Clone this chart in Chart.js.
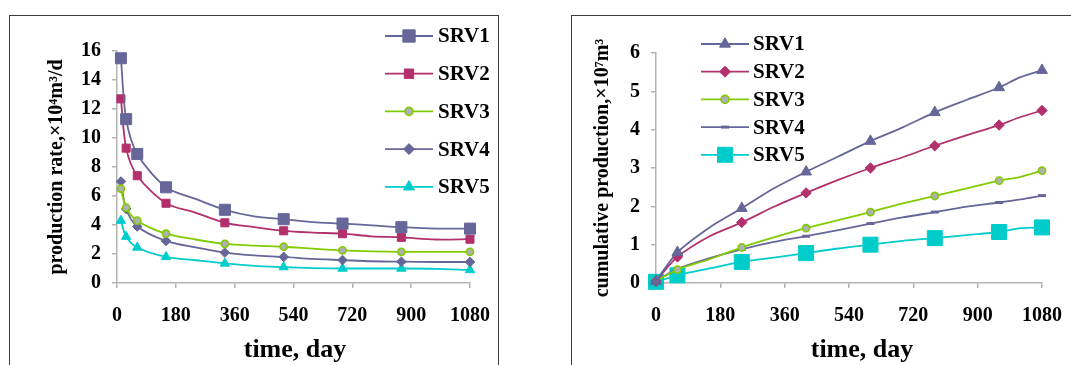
<!DOCTYPE html>
<html>
<head>
<meta charset="utf-8">
<script src="https://cdn.jsdelivr.net/npm/chart.js@4/dist/chart.umd.min.js"></script>
<style>
  body { margin: 0; background: #fff; }
  .caixa { position: absolute; border: 1.5px solid #3c3c3c; }
  canvas { position: absolute; top: 0; }
</style>
</head>
<body>
<div class="caixa" style="left:9px; top:15px; width:488px; height:400px;"></div>
<div class="caixa" style="left:571px; top:15px; width:600px; height:400px;"></div>
<canvas id="graficoVazao" width="540" height="365" style="left:0"></canvas>
<canvas id="graficoAcumulado" width="531" height="365" style="left:540px"></canvas>
<script>
// === Dados ===
// vazao (10^4 m3/d) x tempo (dias)
const diasVazao = [12, 28, 62, 150, 240, 330, 420, 510, 600, 690, 780, 870, 975, 1080];
const marcasVazao = [12, 28, 62, 150, 330, 510, 690, 870, 1080];
const srv1Vazao = [15.5, 11.3, 8.9, 6.6, 5.8, 5.05, 4.6, 4.4, 4.2, 4.1, 3.98, 3.85, 3.75, 3.75];
const srv2Vazao = [12.7, 9.3, 7.4, 5.5, 4.85, 4.15, 3.85, 3.6, 3.48, 3.4, 3.22, 3.15, 3.0, 3.02];
const srv3Vazao = [6.5, 5.2, 4.3, 3.4, 3.0, 2.7, 2.58, 2.5, 2.37, 2.25, 2.18, 2.15, 2.15, 2.15];
const srv4Vazao = [7.0, 5.1, 3.9, 2.9, 2.45, 2.1, 1.9, 1.8, 1.66, 1.58, 1.5, 1.47, 1.45, 1.45];
const srv5Vazao = [4.3, 3.2, 2.45, 1.8, 1.57, 1.35, 1.18, 1.1, 1.03, 1.0, 1.0, 1.0, 0.98, 0.9];

// producao acumulada (10^7 m3) x tempo (dias)
const diasAcum = [0, 60, 150, 240, 330, 420, 510, 600, 690, 780, 870, 960, 1020, 1080];
const marcasAcum = [0, 60, 240, 420, 600, 780, 960, 1080];
const srv1Acum = [0.05, 0.8, 1.45, 1.95, 2.47, 2.9, 3.3, 3.7, 4.06, 4.45, 4.78, 5.1, 5.37, 5.55];
const srv2Acum = [0.05, 0.68, 1.22, 1.58, 1.99, 2.35, 2.69, 3.0, 3.28, 3.58, 3.86, 4.12, 4.33, 4.5];
const srv3Acum = [0.05, 0.35, 0.62, 0.93, 1.19, 1.43, 1.64, 1.85, 2.08, 2.27, 2.47, 2.67, 2.77, 2.93];
const srv4Acum = [0.05, 0.37, 0.65, 0.88, 1.07, 1.22, 1.38, 1.55, 1.71, 1.85, 1.99, 2.1, 2.18, 2.28];
const srv5Acum = [0.03, 0.2, 0.38, 0.55, 0.66, 0.78, 0.9, 1.0, 1.1, 1.17, 1.25, 1.33, 1.43, 1.45];

const rotulos = ["SRV1", "SRV2", "SRV3", "SRV4", "SRV5"];
const tituloTempo = "time, day";

const fonteSerif = '"Liberation Serif", "Times New Roman", serif';
const corEixo = "#b4b4b4";

// === Funções utilitárias ===
function pontos(dias, valores) {
    return dias.map((d, i) => ({ x: d, y: valores[i] }));
}
function raios(dias, marcas, r) {
    return dias.map(d => (marcas.includes(d) ? r : 0));
}
function serie(label, dias, valores, marcas, cor, estilo, r, rLegenda, fundo) {
    return {
        label: label,
        data: pontos(dias, valores),
        borderColor: cor,
        borderWidth: 1.8,
        tension: 0.3,
        clip: false,
        pointStyle: estilo,
        pointRadius: raios(dias, marcas, r),
        pointHoverRadius: 0,
        pointBackgroundColor: fundo || cor,
        pointBorderColor: cor,
        pointBorderWidth: estilo === "line" ? 3 : (fundo ? 1.6 : 1),
        raioLegenda: rLegenda
    };
}

// === Legenda e título do eixo X desenhados no canvas ===
const legendaSRV = {
    id: "legendaSRV",
    afterDraw(chart, args, opts) {
        const ctx = chart.ctx;
        ctx.save();
        chart.data.datasets.forEach((ds, i) => {
            const y = opts.y0 + i * opts.dy;
            ctx.strokeStyle = ds.borderColor;
            ctx.lineWidth = ds.borderWidth;
            ctx.beginPath();
            ctx.moveTo(opts.x0, y);
            ctx.lineTo(opts.x0 + opts.len, y);
            ctx.stroke();
            ctx.fillStyle = ds.pointBackgroundColor;
            ctx.strokeStyle = ds.pointBorderColor;
            ctx.lineWidth = ds.pointBorderWidth;
            Chart.helpers.drawPoint(ctx, {
                pointStyle: ds.pointStyle,
                radius: ds.raioLegenda,
                borderWidth: ds.pointBorderWidth,
                rotation: 0
            }, opts.x0 + opts.len / 2, y);
            ctx.fillStyle = "#000";
            ctx.font = "bold 21px " + fonteSerif;
            ctx.textBaseline = "middle";
            ctx.textAlign = "left";
            ctx.fillText(ds.label, opts.tx, y + 1);
        });
        // titulo do eixo x
        ctx.font = "bold 26px " + fonteSerif;
        ctx.textAlign = "center";
        ctx.textBaseline = "middle";
        ctx.fillText(tituloTempo, opts.tituloX, opts.tituloY);
        ctx.restore();
    }
};

function eixos(yMax, yPasso, tituloY, larguraY, padTituloY) {
    return {
        x: {
            type: "linear",
            min: 0, max: 1080,
            border: { color: corEixo, width: 1.5 },
            grid: { drawOnChartArea: false, color: corEixo, tickLength: 5, lineWidth: 1.5 },
            ticks: { stepSize: 180, color: "#000", padding: 16, maxRotation: 0,
                     callback: v => String(v),
                     font: { family: fonteSerif, size: 20, weight: "bold" } },
            afterFit: s => { s.height = 82; s.paddingRight = 0; s.paddingLeft = 0; }
        },
        y: {
            min: 0, max: yMax,
            border: { color: corEixo, width: 1.5 },
            grid: { drawOnChartArea: false, color: corEixo, tickLength: 5, lineWidth: 1.5 },
            ticks: { stepSize: yPasso, color: "#000", padding: 11,
                     font: { family: fonteSerif, size: 20, weight: "bold" } },
            title: { display: true, text: tituloY, color: "#000", padding: { top: padTituloY, bottom: 0 },
                     font: { family: fonteSerif, size: 20, weight: "bold" } },
            afterFit: s => { s.width = larguraY; }
        }
    };
}

// === Gráfico da vazão ===
const chartVazao = new Chart(document.getElementById("graficoVazao"), {
    type: "line",
    data: {
        datasets: [
            serie(rotulos[0], diasVazao, srv1Vazao, marcasVazao, "#666699", "rect", 7.8, 8.7),
            serie(rotulos[1], diasVazao, srv2Vazao, marcasVazao, "#b2306c", "rect", 5.7, 6.6),
            serie(rotulos[2], diasVazao, srv3Vazao, marcasVazao, "#80cc00", "circle", 3.6, 4, "#b0b0b0"),
            serie(rotulos[3], diasVazao, srv4Vazao, marcasVazao, "#666699", "rectRot", 4.8, 5.5),
            serie(rotulos[4], diasVazao, srv5Vazao, marcasVazao, "#00cccc", "triangle", 5.4, 6.3)
        ]
    },
    options: {
        responsive: false,
        animation: false,
        layout: { padding: { left: 0, right: 70, top: 51, bottom: 0 } },
        plugins: {
            legend: { display: false },
            tooltip: { enabled: false },
            legendaSRV: { x0: 385, len: 48, tx: 438, y0: 36, dy: 37.7, tituloX: 295, tituloY: 350 }
        },
        scales: eixos(16, 2, "production rate,×10⁴m³/d", 117, 45)
    },
    plugins: [legendaSRV]
});

// === Gráfico da produção acumulada ===
const chartAcum = new Chart(document.getElementById("graficoAcumulado"), {
    type: "line",
    data: {
        datasets: [
            serie(rotulos[0], diasAcum, srv1Acum, marcasAcum, "#666699", "triangle", 6.3, 6.3),
            serie(rotulos[1], diasAcum, srv2Acum, marcasAcum, "#b2306c", "rectRot", 5.2, 5.5),
            serie(rotulos[2], diasAcum, srv3Acum, marcasAcum, "#80cc00", "circle", 3.6, 4, "#b0b0b0"),
            serie(rotulos[3], diasAcum, srv4Acum, marcasAcum, "#666699", "line", 4, 4),
            serie(rotulos[4], diasAcum, srv5Acum, marcasAcum, "#00cccc", "rect", 10.6, 10.6)
        ]
    },
    options: {
        responsive: false,
        animation: false,
        layout: { padding: { left: 0, right: 29, top: 53, bottom: 0 } },
        plugins: {
            legend: { display: false },
            tooltip: { enabled: false },
            legendaSRV: { x0: 161, len: 48, tx: 213, y0: 44, dy: 27.7, tituloX: 322, tituloY: 350 }
        },
        scales: eixos(6, 1, "cumulative production,×10⁷m³", 116, 51)
    },
    plugins: [legendaSRV]
});
</script>
</body>
</html>
